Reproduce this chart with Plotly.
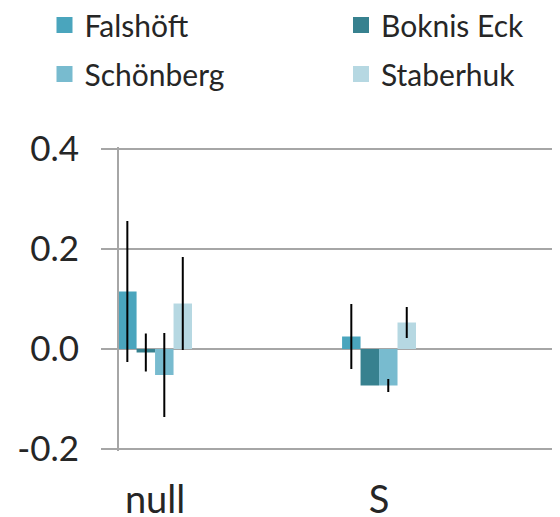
import plotly.graph_objects as go

categories = ["null", "S"]
series_names = ["Falshöft", "Boknis Eck", "Schönberg", "Staberhuk"]
falshoeft = [0.115, 0.025]
boknis_eck = [-0.007, -0.073]
schoenberg = [-0.052, -0.073]
staberhuk = [0.091, 0.053]
falshoeft_err = [0.141, 0.065]
boknis_eck_err = [0.038, 0.0]
schoenberg_err = [0.084, 0.013]
staberhuk_err = [0.093, 0.031]
y_ticks = [-0.2, 0.0, 0.2, 0.4]
y_tick_labels = ["-0.2", "0.0", "0.2", "0.4"]

values = [falshoeft, boknis_eck, schoenberg, staberhuk]
errors = [falshoeft_err, boknis_eck_err, schoenberg_err, staberhuk_err]
colors = ["#4aa5bd", "#37818f", "#78bbcf", "#b6d8e2"]
legend_ids = ["legend", "legend2", "legend3", "legend4"]

FONT = "Lato"
TXT = "#262626"
GRID = "#a6a6a6"
W, H = 552, 509  # page body adds an 8px margin

fig = go.Figure()
for name, v, e, c in zip(series_names, values, errors, colors):
    fig.add_trace(go.Bar(
        x=categories, y=v, name=name, legendgroup=name, showlegend=False,
        marker=dict(color=c, line=dict(width=0)),
        error_y=dict(type="data", array=e, visible=True, color="black", thickness=2, width=0),
    ))
# legend entries (square swatches)
for name, c, lg in zip(series_names, colors, legend_ids):
    fig.add_trace(go.Scatter(
        x=[None], y=[None], mode="markers", name=name, legendgroup=name,
        marker=dict(symbol="square", size=19, color=c), legend=lg,
    ))

# gridlines at the axis range ends (plotly omits edge gridlines)
for yv in (y_ticks[0], y_ticks[-1]):
    fig.add_shape(type="line", xref="paper", yref="y", x0=0, x1=1, y0=yv, y1=yv,
                  line=dict(color=GRID, width=2), layer="above")

leg_common = dict(orientation="h", font=dict(family=FONT, size=30, color=TXT),
                  bgcolor="rgba(0,0,0,0)", itemwidth=30,
                  xref="container", yref="container",
                  xanchor="left", yanchor="middle")
col_x = [36.5, 333]
row_y = [17, 66]
fig.update_layout(
    width=W, height=H,
    margin=dict(l=111, r=0, t=139, b=66, autoexpand=False),
    plot_bgcolor="white", paper_bgcolor="white",
    barmode="group", bargap=0.67, bargroupgap=0,
    font=dict(family=FONT, color=TXT),
    legend=dict(x=col_x[0] / W, y=1 - row_y[0] / H, **leg_common),
    legend2=dict(x=col_x[1] / W, y=1 - row_y[0] / H, **leg_common),
    legend3=dict(x=col_x[0] / W, y=1 - row_y[1] / H, **leg_common),
    legend4=dict(x=col_x[1] / W, y=1 - row_y[1] / H, **leg_common),
    xaxis=dict(range=[-0.161, 1.808], showgrid=False, showline=False, ticks="",
               automargin=False, ticklabelstandoff=23,
               tickfont=dict(family=FONT, size=38, color=TXT), zeroline=False),
    yaxis=dict(range=[-0.204, 0.404], tickvals=y_ticks, ticktext=y_tick_labels,
               automargin=False,
               showgrid=True, gridcolor=GRID, gridwidth=2,
               zeroline=True, zerolinecolor=GRID, zerolinewidth=2,
               showline=True, linecolor=GRID, linewidth=2,
               ticks="outside", ticklen=16, tickwidth=2, tickcolor=GRID,
               ticklabelstandoff=15,
               tickfont=dict(family=FONT, size=35, color=TXT)),
)
fig.write_html("out.html")
